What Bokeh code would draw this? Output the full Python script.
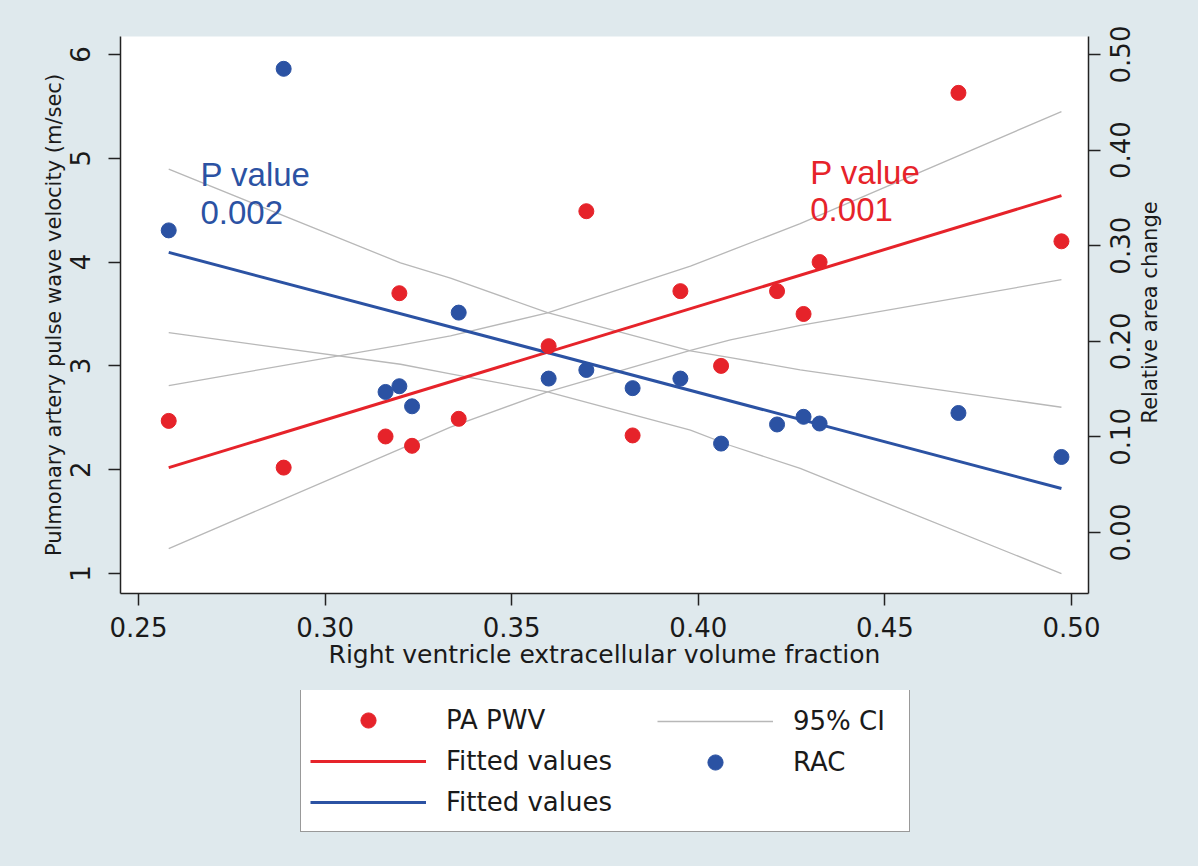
import math
from bokeh.plotting import figure
from bokeh.layouts import column
from bokeh.models import (Range1d, LinearAxis, FixedTicker, NumeralTickFormatter,
                          CustomJSTickFormatter, Legend, LegendItem, Label)
from bokeh.embed import file_html
from bokeh.resources import INLINE

# ---- data ----
x_ecv = [0.2581, 0.2889, 0.3162, 0.3199, 0.3233, 0.3358, 0.3599, 0.3700,
         0.3824, 0.3952, 0.4061, 0.4211, 0.4282, 0.4325, 0.4697, 0.4973]
pa_pwv = [2.47, 2.02, 2.32, 3.70, 2.23, 2.49, 3.19, 4.49,
          2.33, 3.72, 3.00, 3.72, 3.50, 4.00, 5.63, 4.20]
rac = [0.316, 0.485, 0.147, 0.153, 0.132, 0.230, 0.161, 0.170,
       0.151, 0.161, 0.093, 0.113, 0.121, 0.114, 0.125, 0.079]

fit_x = [0.2581, 0.4973]
pa_fit = [2.02, 4.64]
rac_fit = [0.293, 0.046]

ci_x = [0.2581, 0.3202, 0.3336, 0.3596, 0.3979, 0.4086, 0.4273, 0.4973]
pa_ci_hi = [2.81, 3.20, 3.29, 3.51, 3.96, 4.11, 4.37, 5.45]
pa_ci_lo = [1.24, 2.20, 2.41, 2.75, 3.15, 3.25, 3.39, 3.83]
rac_ci_hi = [0.380, 0.282, 0.266, 0.230, 0.190, 0.183, 0.170, 0.131]
rac_ci_lo = [0.209, 0.176, 0.166, 0.147, 0.107, 0.091, 0.067, -0.043]

x_ticks = [0.25, 0.30, 0.35, 0.40, 0.45, 0.50]
pwv_ticks = [1, 2, 3, 4, 5, 6]
rac_ticks = [0.0, 0.1, 0.2, 0.3, 0.4, 0.5]

x_title = "Right ventricle extracellular volume fraction"
pwv_title = "Pulmonary artery pulse wave velocity (m/sec)"
rac_title = "Relative area change"
p_blue = ["P value", "0.002"]
p_red = ["P value", "0.001"]
legend_col1 = ["PA PWV", "Fitted values", "Fitted values"]
legend_col2 = ["95% CI", "RAC"]

# ---- style ----
RED = "#e6232a"
BLUE = "#2b52a3"
GRAY = "#b8b8b8"
BG = "#dfe9ed"
INK = "#1a1a1a"
FONT = "DejaVu Sans"
LBL_SHIFT = 0.0303      # half the length of a rotated right tick label, in axis units
RAC_TITLE_AT = 0.114    # where the rotated right title starts

p = figure(width=1198, height=690, output_backend="svg", toolbar_location=None,
           x_range=Range1d(0.24518, 0.50455), y_range=Range1d(0.8073, 6.173),
           min_border_left=120, min_border_right=110, min_border_top=36,
           min_border_bottom=97, background_fill_color="white",
           border_fill_color=BG, outline_line_color=None)
p.extra_y_ranges = {"rac": Range1d(-0.0638, 0.5188)}
p.xgrid.visible = False
p.ygrid.visible = False


def style_axis(ax, size="26px"):
    ax.axis_line_color = "#222222"
    ax.axis_line_width = 1.5
    ax.major_tick_line_color = "#222222"
    ax.major_tick_line_width = 1.5
    ax.major_tick_in = 0
    ax.major_tick_out = 12
    ax.minor_tick_line_color = None
    ax.major_label_text_font = FONT
    ax.major_label_text_font_size = size
    ax.major_label_text_color = INK
    ax.axis_label_text_font = FONT
    ax.axis_label_text_font_style = "normal"
    ax.axis_label_text_color = INK


xa = p.xaxis[0]
style_axis(xa)
xa.ticker = FixedTicker(ticks=x_ticks)
xa.formatter = NumeralTickFormatter(format="0.00")
xa.axis_label = x_title
xa.axis_label_text_font_size = "25px"
xa.major_label_standoff = 11
xa.axis_label_standoff = 0

ya = p.yaxis[0]
style_axis(ya)
ya.ticker = FixedTicker(ticks=pwv_ticks)
ya.formatter = NumeralTickFormatter(format="0")
ya.axis_label = pwv_title
ya.axis_label_text_font_size = "21px"
ya.major_label_orientation = "vertical"
ya.major_label_standoff = 18
ya.axis_label_standoff = 2

# right axis: line and tick marks (drawn as label-free minor ticks)
ra1 = LinearAxis(y_range_name="rac", ticker=FixedTicker(ticks=[], minor_ticks=rac_ticks))
style_axis(ra1)
ra1.minor_tick_line_color = "#222222"
ra1.minor_tick_line_width = 1.5
ra1.minor_tick_in = 0
ra1.minor_tick_out = 12
ra1.major_label_standoff = 0
p.add_layout(ra1, "right")

# right axis: tick labels, reading upward and centred on the ticks
ra2 = LinearAxis(y_range_name="rac",
                 ticker=FixedTicker(ticks=[t - LBL_SHIFT for t in rac_ticks]),
                 formatter=CustomJSTickFormatter(
                     args=dict(off=LBL_SHIFT),
                     code="const v = tick + off; return (Math.abs(v) < 1e-9 ? 0 : v).toFixed(2);"))
style_axis(ra2)
ra2.axis_line_color = None
ra2.major_tick_line_color = None
ra2.major_tick_out = 0
ra2.major_label_orientation = math.pi / 2
ra2.major_label_standoff = 20
p.add_layout(ra2, "right")

# right axis: title, reading upward
ra3 = LinearAxis(y_range_name="rac", ticker=FixedTicker(ticks=[RAC_TITLE_AT]),
                 formatter=CustomJSTickFormatter(args=dict(txt=rac_title),
                                                 code="return txt;"))
style_axis(ra3, size="21px")
ra3.axis_line_color = None
ra3.major_tick_line_color = None
ra3.major_tick_out = 0
ra3.major_label_orientation = math.pi / 2
ra3.major_label_standoff = 7
p.add_layout(ra3, "right")

# ---- confidence intervals ----
p.line(ci_x, pa_ci_hi, line_color=GRAY, line_width=1.3)
p.line(ci_x, pa_ci_lo, line_color=GRAY, line_width=1.3)
p.line(ci_x, rac_ci_hi, line_color=GRAY, line_width=1.3, y_range_name="rac")
p.line(ci_x, rac_ci_lo, line_color=GRAY, line_width=1.3, y_range_name="rac")

# ---- fitted lines ----
p.line(fit_x, pa_fit, line_color=RED, line_width=3)
p.line(fit_x, rac_fit, line_color=BLUE, line_width=3, y_range_name="rac")

# ---- points ----
p.scatter(x_ecv, pa_pwv, size=15, fill_color=RED, line_color=RED)
p.scatter(x_ecv, rac, size=15, fill_color=BLUE, line_color=BLUE, y_range_name="rac")

# ---- P value annotations ----
for txt, yv in zip(p_blue, [4.848, 4.482]):
    p.add_layout(Label(x=0.2666, y=yv, text=txt, text_font="Liberation Sans",
                       text_font_size="33px", text_color=BLUE,
                       text_baseline="middle"))
for txt, yv in zip(p_red, [4.867, 4.511]):
    p.add_layout(Label(x=0.4300, y=yv, text=txt, text_font="Liberation Sans",
                       text_font_size="33px", text_color=RED,
                       text_baseline="middle"))

# ---- legend panel (below the plot); its key glyphs reuse the series, kept out of view ----
p2 = figure(width=1198, height=176, output_backend="svg", toolbar_location=None,
            x_axis_type=None, y_axis_type=None, min_border=0,
            x_range=Range1d(10, 11), y_range=Range1d(10, 11),
            background_fill_color=None, border_fill_color=BG, outline_line_color=None)
p2.grid.visible = False
k_pa = p2.scatter(x_ecv, pa_pwv, size=15, fill_color=RED, line_color=RED)
k_pafit = p2.line(fit_x, pa_fit, line_color=RED, line_width=3)
k_racfit = p2.line(fit_x, rac_fit, line_color=BLUE, line_width=3)
k_ci = p2.line(ci_x, pa_ci_hi, line_color=GRAY, line_width=1.3)
k_rac = p2.scatter(x_ecv, rac, size=15, fill_color=BLUE, line_color=BLUE)

common = dict(orientation="vertical", padding=9, spacing=0, margin=0,
              glyph_width=116, glyph_height=38, label_height=41,
              label_standoff=20, label_text_font=FONT,
              label_text_font_size="26px", label_text_color=INK)
leg1 = Legend(items=[LegendItem(label=t, renderers=[r])
                     for t, r in zip(legend_col1, [k_pa, k_pafit, k_racfit])],
              location=(180, 34), label_width=454,
              border_line_color="#333333", border_line_width=1.5,
              background_fill_color="white", background_fill_alpha=1.0, **common)
leg2 = Legend(items=[LegendItem(label=t, renderers=[r])
                     for t, r in zip(legend_col2, [k_ci, k_rac])],
              location=(537, 84), label_width=50,
              border_line_color=None, background_fill_alpha=0.0, **common)
p2.add_layout(leg1)
p2.add_layout(leg2)

layout = column(p, p2, spacing=0, styles={"background-color": BG})
open("out.html", "w").write(file_html(layout, INLINE))
